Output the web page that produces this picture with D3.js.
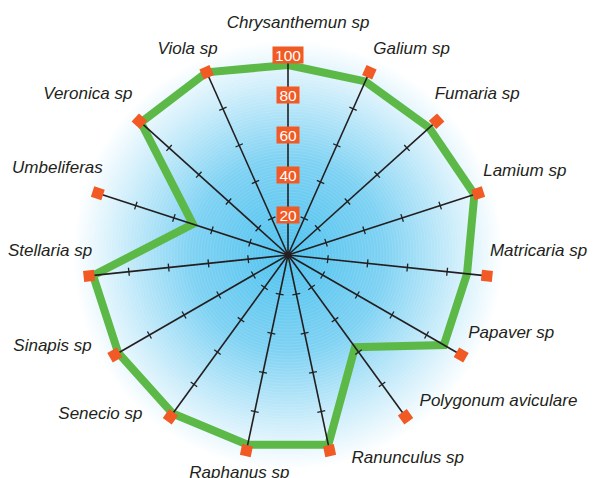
<!DOCTYPE html>
<html>
<head>
<meta charset="utf-8">
<script src="https://cdn.jsdelivr.net/npm/d3@7"></script>
<style>
  body { margin: 0; background: #fff; }
  text { font-family: "Liberation Sans", Arial, sans-serif; }
</style>
</head>
<body>
<script>
// species on each spoke, clockwise from the top
const species = ["Chrysanthemun sp", "Galium sp", "Fumaria sp", "Lamium sp", "Matricaria sp",
  "Papaver sp", "Polygonum aviculare", "Ranunculus sp", "Raphanus sp", "Senecio sp",
  "Sinapis sp", "Stellaria sp", "Umbeliferas", "Veronica sp", "Viola sp"];

// percentage values
const values = [95, 95, 95, 98, 90, 90, 57, 97, 97, 98, 98, 98, 50, 99, 100];

const ticks = [20, 40, 60, 80, 100];

// label placement relative to the spoke end: anchor, dx, dy
const labelPos = [
  ["middle", 10, -33], ["start", 4, -24], ["start", -2, -28], ["start", 5, -23], ["start", 3, -26],
  ["start", 7, -23], ["start", 14, -17], ["start", 22, 6], ["middle", -7, 21], ["end", -28, -4],
  ["end", -23, -10], ["end", 3, -26], ["end", 5, -26], ["end", -7, -28], ["end", 11, -24]
];

const W = 593, H = 478;
const cx = 288, cy = 255;

const svg = d3.select("body").append("svg")
  .attr("width", W).attr("height", H);

const r = d3.scaleLinear().domain([0, 100]).range([0, 200]);
const angle = d3.scaleLinear().domain([0, species.length]).range([0, 2 * Math.PI]);

function pt(i, v) {
  const a = angle(i);
  return [cx + r(v) * Math.sin(a), cy - r(v) * Math.cos(a)];
}

// blue glow behind the chart
const grad = svg.append("defs").append("radialGradient")
  .attr("id", "glow").attr("gradientUnits", "userSpaceOnUse")
  .attr("cx", cx).attr("cy", cy).attr("r", 215);
grad.append("stop").attr("offset", "0%").attr("stop-color", "#4fc2ef");
grad.append("stop").attr("offset", "45%").attr("stop-color", "#7fd2f3");
grad.append("stop").attr("offset", "80%").attr("stop-color", "#d2effb");
grad.append("stop").attr("offset", "100%").attr("stop-color", "#ffffff");

svg.append("circle").attr("cx", cx).attr("cy", cy).attr("r", 215)
  .attr("fill", "url(#glow)");

// faint rings
const g = svg.append("g").attr("transform", `translate(${cx},${cy})`);
g.selectAll("circle.ring")
  .data(d3.range(3, 210, 3))
  .join("circle")
  .attr("r", d => d)
  .attr("fill", "none")
  .attr("stroke", "#fff")
  .attr("stroke-opacity", 0.1)
  .attr("stroke-width", 1);

// green polygon
const radial = d3.lineRadial()
  .angle((d, i) => angle(i))
  .radius(d => r(d))
  .curve(d3.curveLinearClosed);

g.append("path")
  .datum(values)
  .attr("d", radial)
  .attr("fill", "none")
  .attr("stroke", "#5cb947")
  .attr("stroke-width", 8)
  .attr("stroke-linejoin", "miter");

// spokes with tick marks
const spokes = g.selectAll("g.spoke")
  .data(species)
  .join("g")
  .attr("transform", (d, i) => `rotate(${angle(i) * 180 / Math.PI})`);

spokes.append("line")
  .attr("x1", 0).attr("y1", 0)
  .attr("x2", 0).attr("y2", -r(100))
  .attr("stroke", "#231f20").attr("stroke-width", 1.6);

spokes.selectAll("line.tick")
  .data(ticks.slice(0, 4))
  .join("line")
  .attr("x1", -4).attr("x2", 4)
  .attr("y1", d => -r(d)).attr("y2", d => -r(d))
  .attr("stroke", "#231f20").attr("stroke-width", 1.3);

spokes.append("rect")
  .attr("x", -5.5).attr("y", -r(100) - 5.5)
  .attr("width", 11).attr("height", 11)
  .attr("fill", "#f15a24");

g.append("circle").attr("r", 3).attr("fill", "#231f20");

// value labels on the top spoke
const tl = g.selectAll("g.tl")
  .data(ticks)
  .join("g")
  .attr("transform", d => `translate(0,${-r(d)})`);

tl.append("rect")
  .attr("x", d => d === 100 ? -15.5 : -11.5)
  .attr("y", -8.5)
  .attr("width", d => d === 100 ? 31 : 23)
  .attr("height", 17)
  .attr("fill", "#f15a24");

tl.append("text")
  .attr("text-anchor", "middle")
  .attr("dy", "0.36em")
  .attr("fill", "#fff")
  .attr("font-size", 15.5)
  .text(d => d);

// species labels
svg.selectAll("text.sp")
  .data(species)
  .join("text")
  .attr("class", "sp")
  .attr("x", (d, i) => pt(i, 100)[0] + labelPos[i][1])
  .attr("y", (d, i) => pt(i, 100)[1] + labelPos[i][2])
  .attr("dy", "0.35em")
  .attr("text-anchor", (d, i) => labelPos[i][0])
  .attr("font-size", 17)
  .attr("font-style", "italic")
  .attr("fill", "#231f20")
  .text(d => d);
</script>
</body>
</html>
